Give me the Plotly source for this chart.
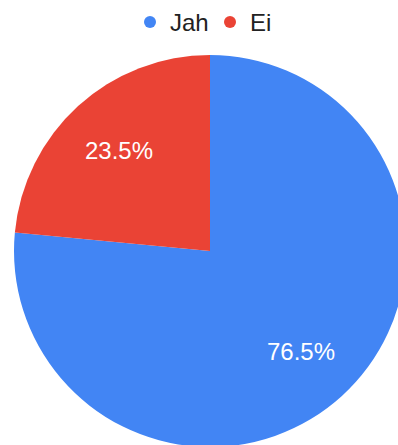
import plotly.graph_objects as go

# Survey answers and their shares
labels = ["Jah", "Ei"]
shares = [76.5, 23.5]
colors = ["#4285F4", "#EA4335"]

FONT = "Liberation Sans, Arial, sans-serif"

fig = go.Figure()

# Filled slices
fig.add_trace(go.Pie(
    labels=labels,
    values=shares,
    sort=False,
    direction="clockwise",
    rotation=0,
    marker=dict(colors=colors, line=dict(width=0)),
    textinfo="none",
    showlegend=False,
    hoverinfo="label+percent",
))

# Transparent ring on top that carries the percentage labels further out
fig.add_trace(go.Pie(
    labels=labels,
    values=shares,
    sort=False,
    direction="clockwise",
    rotation=0,
    hole=0.38,
    marker=dict(colors=["rgba(0,0,0,0)"] * len(labels), line=dict(width=0)),
    texttemplate="%{percent:.1%}",
    textposition="inside",
    insidetextorientation="horizontal",
    textfont=dict(family=FONT, size=24, color="white"),
    showlegend=False,
    hoverinfo="skip",
))

# Round legend markers, one per answer
for name, col in zip(labels, colors):
    fig.add_trace(go.Scatter(
        x=[None], y=[None], mode="markers", name=name,
        marker=dict(symbol="circle", size=12, color=col),
        showlegend=True, hoverinfo="skip",
    ))

fig.update_layout(
    width=406, height=447,
    margin=dict(l=14, r=0, t=55, b=0),
    paper_bgcolor="white", plot_bgcolor="white",
    font=dict(family=FONT, color="#222222"),
    xaxis=dict(visible=False), yaxis=dict(visible=False),
    legend=dict(
        orientation="h", x=0.5, xanchor="center",
        y=1, yref="container", yanchor="top",
        font=dict(family=FONT, size=24, color="#222222"),
        itemwidth=30, entrywidth=35, entrywidthmode="pixels",
        bgcolor="rgba(0,0,0,0)",
    ),
)

fig.write_html(
    "out.html",
    post_script="document.documentElement.style.overflow='hidden';"
                "document.body.style.overflow='hidden';"
                "document.body.style.margin='0';",
)
